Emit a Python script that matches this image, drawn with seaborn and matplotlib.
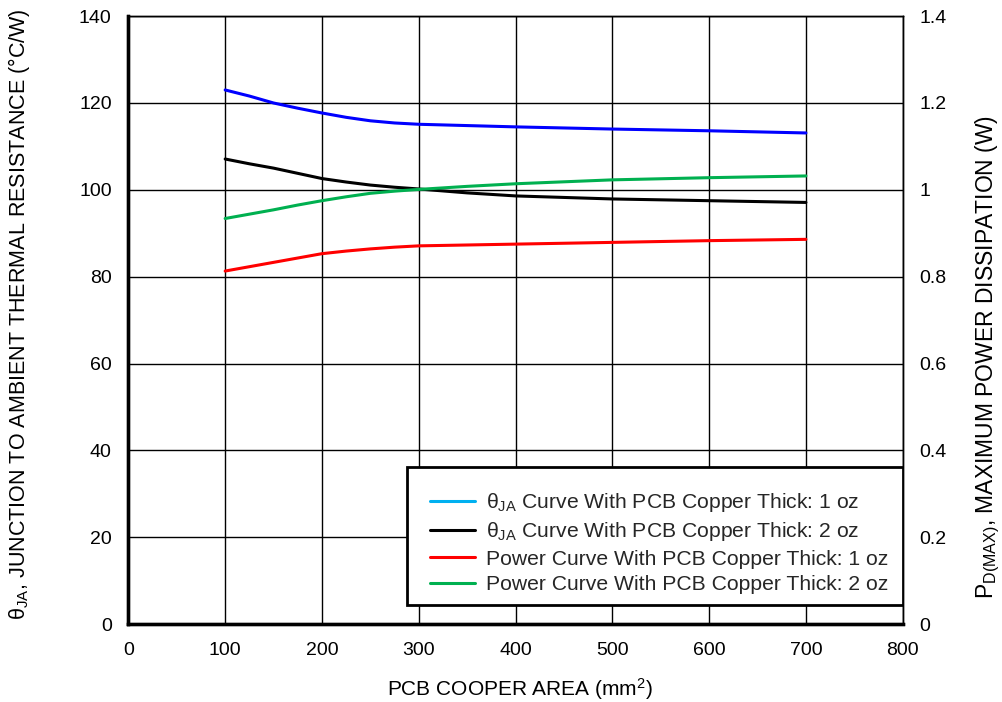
import numpy as np
import pandas as pd
import matplotlib
matplotlib.use("Agg")
import matplotlib.pyplot as plt
import seaborn as sns
from matplotlib.lines import Line2D
from matplotlib.patches import Rectangle

# PCB copper area (mm^2)
area = [100, 125, 150, 175, 200, 225, 250, 275, 300, 350, 400, 500, 600, 700]
# thermal resistance, degC/W (left axis)
theta_1oz = [123.0, 121.6, 120.0, 118.8, 117.7, 116.7, 115.9, 115.4, 115.1, 114.8, 114.5, 114.0, 113.6, 113.1]
theta_2oz = [107.1, 106.0, 105.0, 103.8, 102.6, 101.8, 101.1, 100.6, 100.2, 99.3, 98.6, 97.9, 97.5, 97.1]
# max power dissipation, W (right axis)
power_1oz = [0.813, 0.823, 0.833, 0.843, 0.853, 0.859, 0.864, 0.868, 0.871, 0.873, 0.875, 0.879, 0.883, 0.886]
power_2oz = [0.934, 0.944, 0.954, 0.965, 0.975, 0.984, 0.992, 0.997, 1.001, 1.008, 1.014, 1.023, 1.028, 1.032]

left_ticks = [0, 20, 40, 60, 80, 100, 120, 140]
right_ticks = [0, 0.2, 0.4, 0.6, 0.8, 1.0, 1.2, 1.4]
right_labels = ["0", "0.2", "0.4", "0.6", "0.8", "1", "1.2", "1.4"]
x_ticks = [0, 100, 200, 300, 400, 500, 600, 700, 800]

legend_labels = [
    r"$\mathrm{\theta_{JA}}$ Curve With PCB Copper Thick: 1 oz",
    r"$\mathrm{\theta_{JA}}$ Curve With PCB Copper Thick: 2 oz",
    "Power Curve With PCB Copper Thick: 1 oz",
    "Power Curve With PCB Copper Thick: 2 oz",
]

sns.set_theme(style="white")
plt.rcParams["font.family"] = ["Liberation Sans", "DejaVu Sans"]
plt.rcParams["mathtext.fontset"] = "custom"
plt.rcParams["mathtext.rm"] = "Liberation Sans"
plt.rcParams["mathtext.it"] = "Liberation Sans:italic"

df = pd.DataFrame({"area": area, "t1": theta_1oz, "t2": theta_2oz,
                   "p1": power_1oz, "p2": power_2oz})

fig = plt.figure(figsize=(10.03, 7.02), dpi=100)
ax = fig.add_axes([0.128, 0.111, 0.772, 0.866])
ax2 = ax.twinx()

lw = 2.2
sns.lineplot(data=df, x="area", y="t1", ax=ax, color="#0000ff", lw=lw)
sns.lineplot(data=df, x="area", y="t2", ax=ax, color="black", lw=lw)
sns.lineplot(data=df, x="area", y="p1", ax=ax2, color="#ff0000", lw=lw)
sns.lineplot(data=df, x="area", y="p2", ax=ax2, color="#00b050", lw=lw)

ax.set_xlim(0, 800)
ax.set_ylim(0, 140)
ax2.set_ylim(0, 1.4)
ax.set_xticks(x_ticks)
ax.set_yticks(left_ticks)
ax2.set_yticks(right_ticks)
ax2.set_yticklabels(right_labels)

ax.grid(True, color="black", lw=1.0)
ax.set_axisbelow(True)
ax.tick_params(axis="x", length=0, labelsize=14, colors="black", pad=13)
ax.tick_params(axis="y", length=0, labelsize=14, colors="black", pad=12)
ax2.tick_params(axis="y", length=0, labelsize=14, colors="black", pad=12)
for a in (ax, ax2):
    for s in a.spines.values():
        s.set_color("black")
        s.set_linewidth(1.0)
    a.spines["left"].set_linewidth(2.4)
    a.spines["bottom"].set_linewidth(2.4)

ax.set_xlabel("PCB COOPER AREA (mm$^2$)", fontsize=15, color="black")
ax.xaxis.set_label_coords(0.506, -0.086)
ax.set_ylabel(r"$\mathrm{\theta_{JA}}$, JUNCTION TO AMBIENT THERMAL RESISTANCE (°C/W)",
              fontsize=15.5, color="black")
ax.yaxis.set_label_coords(-0.125, 0.51)
ax2.set_ylabel(r"$\mathrm{P_{D(MAX)}}$, MAXIMUM POWER DISSIPATION (W)",
               fontsize=16.5, color="black")
ax2.yaxis.set_label_coords(1.092, 0.44)

# legend frame as a plain box, contents placed inside it
ax2.add_patch(Rectangle((0.36, 0.031), 0.64, 0.227, transform=ax2.transAxes,
                        facecolor="white", edgecolor="black", lw=2.0, zorder=5))
handles = [Line2D([], [], color=c, lw=lw) for c in ["#00b0f0", "black", "#ff0000", "#00b050"]]
leg = ax2.legend(handles, legend_labels, loc="upper left", bbox_to_anchor=(0.39, 0.219),
                 fontsize=15.2, frameon=False, borderpad=0,
                 handlelength=2.1, handletextpad=0.55, labelspacing=0.3,
                 borderaxespad=0)
leg.set_zorder(6)

fig.savefig("out.png", dpi=100)
